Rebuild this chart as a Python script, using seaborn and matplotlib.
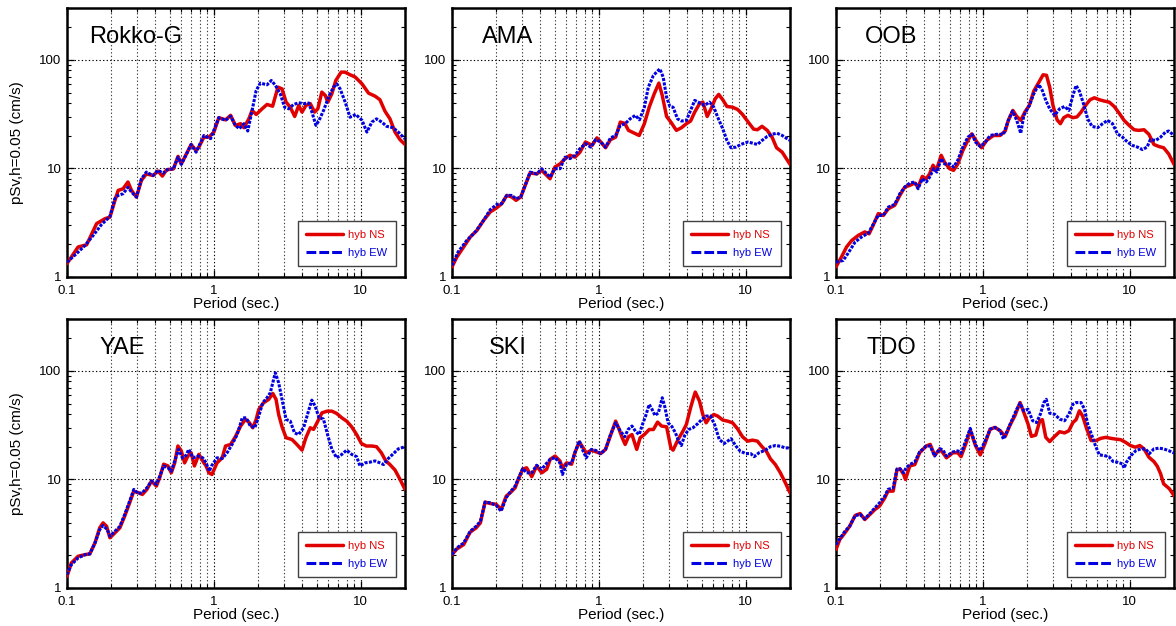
import numpy as np
import pandas as pd
import matplotlib
matplotlib.use("Agg")
import matplotlib.pyplot as plt
from matplotlib.lines import Line2D
from matplotlib.ticker import LogLocator, NullFormatter
import seaborn as sns

sns.set_theme(style="ticks", rc={"axes.edgecolor": "black", "xtick.color": "black",
                                 "ytick.color": "black", "text.color": "black",
                                 "axes.labelcolor": "black"})
plt.rcParams["font.family"] = ["Liberation Sans", "DejaVu Sans"]

# ---------------------------------------------------------------- data
# pseudo velocity response spectra (h = 0.05), period in seconds, pSv in cm/s

ROKKO_NS_T = [0.1, 0.119, 0.136, 0.159, 0.181, 0.196, 0.212, 0.223, 0.241, 0.26, 0.275, 0.297,
              0.321, 0.347, 0.385, 0.417, 0.446, 0.476, 0.53, 0.57, 0.6, 0.65, 0.70, 0.757, 0.79,
              0.855, 0.925, 1.0, 1.08, 1.2, 1.3, 1.4, 1.52, 1.6, 1.73, 1.82, 1.94, 2.13, 2.3,
              2.51, 2.73, 2.91, 3.1, 3.31, 3.55, 3.78, 3.98, 4.23, 4.53, 4.85, 5.1, 5.43, 5.73,
              5.97, 6.35, 6.76, 7.35, 7.8, 8.46, 9.15, 10.2, 11.3, 12.5, 13.5, 14.6, 15.8, 17.1,
              18.5, 20.0]
ROKKO_NS_V = [1.33, 1.89, 1.98, 3.1, 3.44, 3.56, 5.07, 6.27, 6.5, 7.5, 6.27, 5.45,
              7.76, 8.9, 8.6, 9.45, 8.5, 9.7, 9.9, 12.9, 11.0, 13.6, 16.6, 14.6, 15.7,
              19.4, 19.4, 21.6, 29.3, 28.0, 30.8, 24.9, 25.8, 23.7, 28.6, 34.2, 31.4, 35.4, 38.8,
              37.4, 56.0, 54.0, 40.8, 36.6, 30.1, 38.0, 33.0, 38.0, 39.5, 33.0, 35.4, 50.4, 47.0,
              40.8, 48.6, 64.5, 77.0, 77.0, 72.8, 69.5, 60.0, 49.3, 46.3, 42.9, 33.7, 28.6, 21.6,
              18.4, 16.6]
ROKKO_EW_T = [0.1, 0.116, 0.133, 0.151, 0.172, 0.196, 0.212, 0.223, 0.241, 0.26, 0.275, 0.297,
              0.321, 0.347, 0.385, 0.417, 0.45, 0.486, 0.53, 0.57, 0.6, 0.65, 0.7, 0.757, 0.79,
              0.855, 0.95, 1.08, 1.2, 1.3, 1.4, 1.49, 1.6, 1.7, 1.82, 1.94, 2.07, 2.3, 2.46, 2.62,
              2.83, 3.03, 3.23, 3.49, 3.78, 4.08, 4.42, 4.65, 4.95, 5.2, 5.58, 6.1, 6.52, 6.87,
              7.23, 7.83, 8.45, 9.25, 10.2, 11.0, 11.9, 12.8, 13.9, 15.0, 16.6, 18.0, 20.0]
ROKKO_EW_V = [1.37, 1.64, 1.96, 2.42, 3.05, 3.6, 5.3, 5.64, 5.85, 6.7, 6.05, 5.45,
              8.0, 9.25, 8.6, 9.6, 9.05, 9.8, 9.9, 12.7, 10.9, 13.5, 16.6, 14.1, 16.0,
              20.1, 18.8, 29.3, 27.7, 30.2, 24.9, 23.2, 25.8, 22.1, 34.2, 52.2, 61.0, 58.9, 64.5, 58.3,
              48.6, 36.6, 35.4, 38.8, 40.2, 39.5, 40.0, 33.0, 24.9, 27.7, 34.2, 47.0, 56.0, 60.0,
              54.0, 40.8, 29.6, 31.4, 27.7, 21.6, 26.7, 28.6, 26.7, 24.4, 23.7, 21.6, 18.7]

AMA_NS_T = [0.1, 0.108, 0.12, 0.133, 0.148, 0.164, 0.182, 0.202, 0.218, 0.236, 0.255, 0.273,
            0.294, 0.315, 0.34, 0.378, 0.408, 0.442, 0.465, 0.502, 0.544, 0.588, 0.636, 0.688,
            0.743, 0.81, 0.90, 0.97, 1.03, 1.11, 1.2, 1.3, 1.4, 1.5, 1.59, 1.72, 1.88, 2.04, 2.2,
            2.38, 2.56, 2.7, 2.89, 3.09, 3.37, 3.65, 3.94, 4.21, 4.49, 4.84, 5.1, 5.46, 5.8,
            6.19, 6.54, 6.97, 7.44, 8.13, 8.8, 9.5, 10.3, 11.3, 12.0, 12.9, 14.0, 15.1, 16.2,
            17.7, 18.6, 20.0]
AMA_NS_V = [1.24, 1.53, 1.89, 2.33, 2.69, 3.32, 3.97, 4.35, 4.73, 5.64, 5.46, 5.08,
            5.46, 6.98, 9.06, 8.9, 9.6, 8.6, 8.03, 10.3, 11.0, 12.3, 13.2, 12.7,
            14.1, 17.5, 16.3, 19.1, 17.5, 15.5, 18.4, 19.4, 26.7, 26.0, 22.4, 21.3, 20.1, 25.8, 36.6,
            48.6, 61.0, 47.0, 30.1, 26.7, 22.4, 23.7, 25.8, 27.3, 33.0, 39.4, 40.8, 30.1, 35.4,
            43.7, 48.0, 42.9, 37.2, 36.6, 34.9, 31.4, 27.1, 23.0, 22.7, 24.4, 22.4, 19.4, 15.5,
            14.1, 12.7, 10.9]
AMA_EW_T = [0.1, 0.11, 0.126, 0.144, 0.164, 0.182, 0.202, 0.218, 0.236, 0.255, 0.273, 0.294,
            0.315, 0.34, 0.378, 0.408, 0.442, 0.465, 0.502, 0.544, 0.588, 0.636, 0.688, 0.743,
            0.81, 0.88, 0.95, 1.03, 1.11, 1.2, 1.3, 1.4, 1.51, 1.63, 1.77, 1.89, 2.04, 2.17, 2.35,
            2.47, 2.6, 2.74, 2.89, 3.04, 3.2, 3.43, 3.65, 3.94, 4.21, 4.49, 4.84, 5.24, 5.66,
            6.06, 6.44, 6.97, 7.44, 7.93, 8.57, 9.24, 10.3, 11.1, 12.0, 12.9, 14.0, 15.1, 16.3,
            17.7, 19.1, 20.0]
AMA_EW_V = [1.28, 1.70, 2.17, 2.6, 3.32, 4.17, 4.66, 4.73, 5.64, 5.64, 5.26, 5.46,
            6.98, 9.25, 8.9, 9.93, 8.9, 8.32, 9.93, 9.93, 12.7, 12.3, 13.2, 15.2,
            16.9, 15.7, 18.4, 17.5, 15.7, 19.1, 20.1, 24.9, 25.8, 28.6, 30.8, 28.0, 36.6, 56.0, 71.8,
            77.0, 82.6, 69.2, 45.3, 37.2, 36.6, 28.6, 27.3, 27.7, 34.2, 42.3, 40.2, 38.0, 40.8,
            36.6, 29.6, 23.2, 18.1, 15.5, 15.7, 16.6, 17.5, 17.1, 16.6, 18.1, 19.7, 20.6, 21.1,
            20.1, 18.8, 18.1]

OOB_NS_T = [0.1, 0.109, 0.118, 0.128, 0.142, 0.157, 0.168, 0.179, 0.194, 0.21, 0.227, 0.251,
            0.272, 0.294, 0.318, 0.344, 0.362, 0.387, 0.412, 0.434, 0.458, 0.482, 0.52, 0.548,
            0.594, 0.632, 0.675, 0.73, 0.79, 0.84, 0.91, 0.98, 1.06, 1.18, 1.31, 1.42, 1.49, 1.6,
            1.7, 1.81, 1.93, 2.07, 2.22, 2.37, 2.57, 2.71, 2.85, 3.0, 3.2, 3.37, 3.55, 3.79, 4.1,
            4.37, 4.66, 4.99, 5.37, 5.74, 6.2, 6.7, 7.24, 7.83, 8.46, 9.14, 9.9, 10.7, 11.5, 12.5,
            13.5, 14.6, 15.8, 17.0, 18.4, 20.0]
OOB_NS_V = [1.24, 1.53, 1.89, 2.17, 2.42, 2.6, 2.5, 2.99, 3.83, 3.69, 4.25, 4.57,
            5.64, 6.73, 6.98, 7.33, 6.73, 8.44, 8.03, 8.93, 10.7, 9.6, 13.2, 11.4,
            9.93, 9.6, 11.0, 14.6, 18.1, 20.8, 17.5, 15.5, 18.1, 20.1, 20.1, 22.1, 27.7, 34.2,
            30.1, 27.7, 33.0, 38.0, 51.5, 60.0, 72.8, 72.0, 56.0, 38.0, 28.0, 25.8, 29.3, 30.8, 29.3,
            29.8, 33.0, 38.0, 42.9, 44.7, 42.9, 41.7, 40.8, 37.2, 32.3, 27.7, 24.9, 22.7, 22.4, 22.7,
            20.6, 16.6, 15.9, 15.5, 13.6, 10.9]
OOB_EW_T = [0.1, 0.112, 0.121, 0.135, 0.149, 0.166, 0.179, 0.194, 0.21, 0.227, 0.251, 0.272,
            0.294, 0.318, 0.344, 0.362, 0.387, 0.412, 0.434, 0.462, 0.486, 0.52, 0.548, 0.594,
            0.632, 0.675, 0.73, 0.79, 0.845, 0.89, 0.96, 1.04, 1.12, 1.24, 1.38, 1.49, 1.59, 1.70,
            1.81, 1.9, 2.07, 2.22, 2.4, 2.54, 2.68, 2.85, 3.08, 3.33, 3.6, 3.85, 4.1, 4.31, 4.54,
            4.84, 5.17, 5.53, 6.04, 6.53, 7.06, 7.63, 8.25, 8.92, 9.64, 10.4, 11.3, 12.2, 13.1,
            13.8, 15.0, 16.2, 17.5, 18.4, 20.0]
OOB_EW_V = [1.37, 1.42, 1.66, 2.1, 2.33, 2.54, 3.05, 3.69, 3.69, 4.4, 4.66, 5.85,
            6.73, 7.33, 7.5, 6.5, 8.03, 7.5, 8.32, 9.93, 9.25, 12.3, 11.0, 11.0,
            10.3, 11.9, 15.7, 19.4, 20.6, 17.5, 15.9, 17.5, 20.1, 20.6, 20.6, 27.7, 33.7, 27.7,
            21.1, 30.8, 38.0, 48.6, 59.3, 52.2, 42.3, 35.4, 30.8, 35.4, 37.2, 34.2, 47.0, 58.0, 51.5,
            39.4, 28.6, 24.4, 23.7, 25.8, 27.7, 25.8, 20.8, 19.4, 17.5, 16.3, 15.7, 14.9, 15.7,
            18.4, 18.1, 19.4, 21.6, 22.1, 20.1]

YAE_NS_T = [0.1, 0.107, 0.119, 0.133, 0.143, 0.155, 0.167, 0.176, 0.186, 0.196, 0.212, 0.229,
            0.247, 0.267, 0.285, 0.305, 0.326, 0.35, 0.376, 0.406, 0.428, 0.455, 0.487, 0.513,
            0.541, 0.569, 0.6, 0.632, 0.665, 0.70, 0.737, 0.79, 0.855, 0.885, 0.925, 0.97, 1.05,
            1.14, 1.2, 1.3, 1.4, 1.52, 1.64, 1.73, 1.84, 1.94, 2.02, 2.18, 2.36, 2.52, 2.65, 2.76,
            2.91, 3.1, 3.4, 3.67, 3.98, 4.23, 4.53, 4.77, 5.1, 5.44, 5.9, 6.36, 6.85, 7.43, 8.02,
            8.67, 9.37, 10.1, 10.9, 11.9, 12.8, 13.8, 14.8, 15.8, 17.1, 18.5, 20.0]
YAE_NS_V = [1.28, 1.70, 1.96, 2.03, 2.06, 2.6, 3.58, 3.98, 3.7, 2.9, 3.22, 3.58,
            4.59, 6.09, 7.8, 7.55, 7.27, 8.09, 9.66, 8.68, 10.4, 13.8, 13.3, 11.5,
            14.2, 20.3, 18.3, 14.2, 16.4, 17.6, 13.3, 17.0, 14.2, 13.3, 11.5, 11.1, 14.2,
            15.8, 20.3, 21.0, 24.7, 31.0, 35.7, 33.7, 29.9, 35.7, 44.0, 50.8, 54.5, 61.8, 54.5, 39.6,
            30.5, 24.2, 23.3, 21.0, 18.6, 24.2, 29.9, 28.9, 34.4, 41.0, 42.5, 42.5, 40.5, 36.9, 34.4,
            30.5, 25.9, 21.4, 20.3, 20.3, 20.0, 17.6, 14.8, 13.7, 12.2, 10.0, 8.09]
YAE_EW_T = [0.1, 0.107, 0.119, 0.133, 0.143, 0.155, 0.167, 0.176, 0.188, 0.196, 0.212, 0.229,
            0.247, 0.267, 0.285, 0.305, 0.326, 0.35, 0.376, 0.406, 0.428, 0.455, 0.487, 0.513,
            0.541, 0.575, 0.61, 0.641, 0.675, 0.72, 0.78, 0.84, 0.885, 0.93, 0.97, 1.05, 1.14,
            1.23, 1.33, 1.44, 1.56, 1.66, 1.77, 1.90, 2.02, 2.15, 2.30, 2.42, 2.55, 2.62, 2.76,
            2.91, 3.10, 3.31, 3.54, 3.77, 4.08, 4.37, 4.64, 4.89, 5.2, 5.57, 5.96, 6.36, 6.85,
            7.43, 8.02, 8.67, 9.37, 9.87, 10.7, 11.5, 12.5, 13.5, 14.3, 15.4, 16.7, 18.0, 20.0]
YAE_EW_V = [1.33, 1.64, 1.89, 2.03, 2.06, 2.6, 3.45, 3.76, 3.45, 3.0, 3.33, 3.7,
            4.75, 6.31, 8.09, 7.4, 7.55, 8.38, 9.66, 9.0, 10.7, 13.3, 12.8, 11.9,
            14.8, 18.9, 15.8, 16.4, 18.9, 15.8, 16.4, 15.8, 14.2, 11.9, 13.5, 15.8, 15.6,
            17.6, 21.0, 25.9, 36.9, 36.9, 31.0, 29.9, 38.3, 50.8, 56.5, 62.8, 83.2, 95.9, 77.6,
            54.5, 35.7, 34.4, 26.8, 25.9, 29.9, 41.0, 53.7, 47.3, 36.9, 36.0, 25.4, 18.9, 15.8,
            17.0, 18.6, 17.0, 16.2, 13.3, 14.2, 14.4, 14.8, 14.2, 13.7, 15.6, 17.3, 19.1, 20.0]

SKI_NS_T = [0.1, 0.108, 0.12, 0.133, 0.146, 0.156, 0.168, 0.182, 0.2, 0.216, 0.234, 0.249,
            0.269, 0.283, 0.303, 0.322, 0.349, 0.377, 0.408, 0.441, 0.466, 0.503, 0.543, 0.565,
            0.603, 0.652, 0.686, 0.736, 0.78, 0.82, 0.89, 0.95, 1.03, 1.11, 1.2, 1.30, 1.36, 1.44,
            1.51, 1.59, 1.68, 1.81, 1.91, 2.04, 2.2, 2.35, 2.51, 2.67, 2.89, 3.09, 3.2, 3.46,
            3.74, 3.94, 4.21, 4.37, 4.53, 4.84, 5.1, 5.37, 5.66, 6.06, 6.44, 6.97, 7.53, 8.13,
            8.78, 9.5, 10.3, 11.1, 12.0, 12.9, 13.8, 14.7, 15.9, 17.2, 18.6, 20.0]
SKI_NS_V = [2.03, 2.29, 2.51, 3.27, 3.58, 3.98, 6.18, 6.0, 5.9, 5.28, 7.02, 7.53,
            8.37, 10.0, 12.4, 12.8, 10.6, 13.3, 11.5, 12.4, 15.3, 16.4, 14.8, 12.8,
            14.2, 13.8, 17.6, 22.1, 19.6, 17.5, 18.6, 18.0, 17.3, 18.9, 25.4, 34.4, 29.9, 24.2,
            21.0, 24.7, 25.9, 18.9, 24.2, 25.9, 28.8, 28.8, 33.7, 31.0, 30.5, 19.5, 18.6, 23.3,
            27.9, 32.1, 45.7, 54.5, 63.7, 52.6, 39.6, 33.2, 36.9, 39.6, 38.3, 35.2, 34.4, 33.2,
            29.3, 24.7, 22.5, 23.0, 22.5, 20.0, 18.2, 15.5, 13.7, 11.5, 9.3, 7.53]
SKI_EW_T = [0.1, 0.108, 0.12, 0.133, 0.146, 0.156, 0.168, 0.182, 0.2, 0.216, 0.234, 0.249,
            0.269, 0.283, 0.303, 0.322, 0.349, 0.377, 0.408, 0.441, 0.466, 0.503, 0.543, 0.565,
            0.603, 0.652, 0.686, 0.736, 0.78, 0.82, 0.89, 0.95, 1.03, 1.11, 1.2, 1.30, 1.4, 1.5,
            1.58, 1.68, 1.79, 1.88, 1.98, 2.08, 2.2, 2.29, 2.41, 2.54, 2.7, 2.81, 2.96, 3.15,
            3.32, 3.46, 3.64, 3.84, 4.08, 4.37, 4.72, 5.02, 5.37, 5.75, 6.13, 6.6, 7.14, 7.93,
            8.57, 9.16, 10.0, 10.8, 11.4, 12.3, 13.6, 14.7, 15.9, 17.2, 18.6, 20.0]
SKI_EW_V = [2.03, 2.34, 2.6, 3.33, 3.7, 4.12, 6.18, 6.09, 5.75, 5.1, 6.79, 7.65,
            8.68, 10.2, 12.6, 11.5, 11.5, 13.5, 12.4, 14.1, 15.3, 15.9, 14.2, 11.1,
            13.8, 14.2, 17.6, 22.6, 18.3, 15.8, 18.9, 18.5, 17.3, 18.9, 25.9, 33.2, 27.9, 24.7,
            28.8, 31.0, 27.3, 25.9, 32.1, 38.3, 49.0, 44.7, 38.8, 41.0, 56.5, 46.7, 33.2, 30.5,
            26.8, 23.3, 20.5, 25.4, 28.8, 29.9, 32.7, 35.7, 38.3, 38.3, 32.1, 23.3, 21.4, 23.7,
            20.3, 18.2, 17.3, 17.3, 16.2, 17.6, 18.6, 20.0, 20.5, 20.2, 19.5, 19.5]

TDO_NS_T = [0.1, 0.106, 0.115, 0.124, 0.135, 0.146, 0.157, 0.17, 0.184, 0.198, 0.215, 0.226,
            0.245, 0.26, 0.273, 0.289, 0.297, 0.318, 0.344, 0.371, 0.412, 0.438, 0.469, 0.508,
            0.534, 0.565, 0.625, 0.675, 0.71, 0.77, 0.82, 0.89, 0.96, 1.04, 1.12, 1.21, 1.31,
            1.42, 1.53, 1.65, 1.79, 1.9, 2.03, 2.14, 2.29, 2.44, 2.54, 2.68, 2.85, 3.08, 3.33,
            3.6, 3.85, 4.1, 4.31, 4.54, 4.77, 5.1, 5.45, 5.9, 6.36, 6.87, 7.43, 8.03, 8.68, 9.38,
            10.1, 10.9, 11.7, 12.5, 13.5, 14.6, 15.4, 16.2, 17.0, 18.6, 20.0]
TDO_NS_V = [2.26, 2.79, 3.22, 3.71, 4.65, 4.85, 4.27, 4.75, 5.28, 5.68, 6.77, 7.8,
            7.8, 12.2, 12.5, 11.1, 10.0, 13.3, 13.7, 17.6, 20.3, 21.0, 16.7, 18.9,
            17.6, 15.8, 17.6, 17.6, 16.2, 21.8, 28.5, 20.5, 16.8, 21.9, 29.0, 30.1, 28.1,
            24.9, 31.6, 38.5, 51.0, 41.3, 32.3, 24.9, 25.6, 34.7, 35.5, 24.4, 22.3, 24.9, 27.5,
            26.8, 28.1, 33.4, 35.5, 42.8, 38.5, 29.0, 22.8, 22.8, 23.9, 24.4, 23.9, 23.5, 23.2, 21.9,
            20.5, 19.8, 20.5, 19.1, 16.0, 14.6, 13.2, 11.3, 9.1, 8.2, 7.1]
TDO_EW_T = [0.1, 0.106, 0.115, 0.124, 0.135, 0.146, 0.157, 0.17, 0.184, 0.198, 0.215, 0.226,
            0.245, 0.26, 0.273, 0.289, 0.3, 0.318, 0.344, 0.371, 0.412, 0.438, 0.469, 0.508,
            0.534, 0.565, 0.625, 0.675, 0.71, 0.77, 0.82, 0.89, 0.96, 1.04, 1.12, 1.21, 1.31,
            1.38, 1.45, 1.57, 1.70, 1.79, 1.9, 2.03, 2.18, 2.32, 2.46, 2.6, 2.7, 2.85, 3.08,
            3.33, 3.6, 3.85, 4.1, 4.31, 4.66, 4.92, 5.17, 5.53, 5.83, 6.2, 6.7, 7.24, 7.7, 8.25,
            8.92, 9.14, 9.49, 10.2, 11.0, 11.9, 12.8, 13.6, 14.6, 15.8, 17.0, 18.4, 20.0]
TDO_EW_V = [2.51, 2.83, 3.33, 3.71, 4.65, 4.75, 4.33, 4.85, 5.47, 6.09, 7.02, 8.09,
            8.37, 12.5, 12.5, 11.5, 12.8, 13.7, 14.5, 17.9, 20.3, 20.3, 16.4, 19.2,
            18.7, 16.4, 17.9, 18.3, 17.4, 23.3, 29.5, 20.8, 18.4, 22.8, 29.0, 30.1, 28.1,
            23.5, 27.1, 34.7, 44.3, 50.2, 42.8, 44.3, 34.7, 33.4, 39.8, 51.0, 54.7, 40.7, 39.8,
            35.9, 34.7, 39.8, 49.2, 51.0, 51.0, 44.3, 32.3, 25.2, 20.5, 16.8, 16.6, 16.1, 14.6, 14.4,
            13.9, 12.7, 14.4, 16.6, 18.4, 19.1, 19.1, 17.3, 19.1, 19.4, 19.1, 18.4, 17.5]

STATIONS = ["Rokko-G", "AMA", "OOB", "YAE", "SKI", "TDO"]
SPECTRA = {
    "Rokko-G": (ROKKO_NS_T, ROKKO_NS_V, ROKKO_EW_T, ROKKO_EW_V),
    "AMA": (AMA_NS_T, AMA_NS_V, AMA_EW_T, AMA_EW_V),
    "OOB": (OOB_NS_T, OOB_NS_V, OOB_EW_T, OOB_EW_V),
    "YAE": (YAE_NS_T, YAE_NS_V, YAE_EW_T, YAE_EW_V),
    "SKI": (SKI_NS_T, SKI_NS_V, SKI_EW_T, SKI_EW_V),
    "TDO": (TDO_NS_T, TDO_NS_V, TDO_EW_T, TDO_EW_V),
}
COMPONENTS = ["hyb NS", "hyb EW"]
X_TICKS = [0.1, 1, 10]
X_TICKLABELS = ["0.1", "1", "10"]
Y_TICKS = [1, 10, 100]
Y_TICKLABELS = ["1", "10", "100"]

# ---------------------------------------------------------------- style
NS_COLOR = "#e00000"
EW_COLOR = "#0000e0"
W_PX, H_PX = 1176, 626
COL_LEFT = [67, 452, 836]
ROW_TOP = [8, 319]
AX_W, AX_H = 338, 269
NAME_X = [0.065, 0.088, 0.085, 0.097, 0.109, 0.091]

fig = plt.figure(figsize=(W_PX / 100, H_PX / 100), dpi=100)

for i, name in enumerate(STATIONS):
    r, c = divmod(i, 3)
    ax = fig.add_axes([COL_LEFT[c] / W_PX, 1 - (ROW_TOP[r] + AX_H) / H_PX,
                       AX_W / W_PX, AX_H / H_PX])
    ns_t, ns_v, ew_t, ew_v = SPECTRA[name]
    df_ns = pd.DataFrame({"period": ns_t, "psv": ns_v})
    df_ew = pd.DataFrame({"period": ew_t, "psv": ew_v})

    ax.set_xscale("log")
    ax.set_yscale("log")
    sns.lineplot(data=df_ns, x="period", y="psv", ax=ax, color=NS_COLOR,
                 linewidth=2.5, estimator=None, sort=False, zorder=3)
    sns.lineplot(data=df_ew, x="period", y="psv", ax=ax, color=EW_COLOR,
                 linewidth=2.2, estimator=None, sort=False, zorder=4,
                 dashes=False)
    ax.lines[-1].set_dashes((1.0, 0.45))

    ax.set_xlim(0.1, 20)
    ax.set_ylim(1, 300)

    ax.set_xticks(X_TICKS)
    ax.set_xticklabels(X_TICKLABELS)
    ax.set_yticks(Y_TICKS)
    ax.set_yticklabels(Y_TICKLABELS)
    ax.xaxis.set_minor_locator(LogLocator(base=10, subs=np.arange(2, 10), numticks=20))
    ax.yaxis.set_minor_locator(LogLocator(base=10, subs=np.arange(2, 10), numticks=20))
    ax.xaxis.set_minor_formatter(NullFormatter())
    ax.yaxis.set_minor_formatter(NullFormatter())
    ax.tick_params(which="both", direction="in", top=True, right=True, labelsize=9.5)
    ax.tick_params(axis="x", which="both", pad=6)
    ax.tick_params(axis="y", which="both", pad=4)
    ax.tick_params(which="major", length=5, width=0.9)
    ax.tick_params(which="minor", length=3, width=0.8)

    ax.grid(which="major", axis="both", color="black", linestyle=(0, (1.2, 2.0)),
            linewidth=0.8)
    ax.grid(which="minor", axis="x", color="0.25", linestyle=(0, (1.2, 2.0)),
            linewidth=0.8)
    ax.set_axisbelow(True)
    for sp in ax.spines.values():
        sp.set_linewidth(1.8)
        sp.set_color("black")

    ax.set_xlabel("Period (sec.)", fontsize=11)
    ax.xaxis.set_label_coords(0.5, -0.075)
    if c == 0:
        ax.set_ylabel("pSv,h=0.05 (cm/s)", fontsize=11)
        ax.yaxis.set_label_coords(-0.128, 0.5)
    else:
        ax.set_ylabel("")

    ax.text(NAME_X[i], 0.893, name, transform=ax.transAxes, fontsize=17,
            ha="left", va="center")

    handles = [Line2D([], [], color=NS_COLOR, linewidth=2.5),
               Line2D([], [], color=EW_COLOR, linewidth=2.2, dashes=(3.2, 1.0))]
    leg = ax.legend(handles, COMPONENTS, loc="lower right",
                    bbox_to_anchor=(0.973, 0.04), borderaxespad=0.0,
                    fontsize=8, handlelength=3.3, handletextpad=0.5,
                    labelspacing=0.75, borderpad=0.75, fancybox=False,
                    framealpha=1.0, edgecolor="0.25", labelcolor="linecolor")
    leg.get_frame().set_linewidth(1.0)

fig.savefig("out.png", dpi=100)
